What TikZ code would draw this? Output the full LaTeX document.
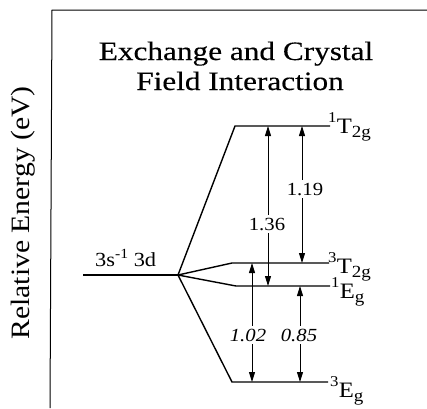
\documentclass[tikz,border=0pt]{standalone}
\usepackage{fontspec}
\setmainfont{Liberation Serif}
\newfontfamily\widefont{Liberation Serif}[FakeStretch=1.18,FakeBold=0.3]
\newfontfamily\numfont{Liberation Serif}[FakeStretch=1.12]
\usetikzlibrary{arrows.meta}
\newcommand\lvlname[3]{\raisebox{11pt}{\fontsize{15}{15}\selectfont #1}\kern0.3pt #2\raisebox{-4.5pt}{\fontsize{17}{17}\selectfont #3}}
\tikzset{
  levelline/.style={line width=1.4pt},
  frameline/.style={line width=1pt},
  dimarrow/.style={line width=0.9pt, {Triangle[length=10pt,width=6pt]}-{Triangle[length=10pt,width=6pt]}},
  numlabel/.style={fill=white, inner sep=2.5pt, font=\numfont\fontsize{18.5}{18.5}\selectfont},
  lvllabel/.style={anchor=base west, inner sep=0pt, font=\numfont\fontsize{22}{22}\selectfont},
  titletext/.style={anchor=base, inner sep=0pt, font=\widefont\fontsize{26.5}{26.5}\selectfont}
}
\begin{document}
\begin{tikzpicture}[x=1pt,y=-1pt]
\useasboundingbox (0,0) rectangle (427,408);
% frame
\coordinate (fr) at (427,10);
\coordinate (fc) at (52,10);
\coordinate (fb) at (50,408);
\draw[frameline] (fr) -- (fc) -- (fb);
% axis label
\node[rotate=90, inner sep=0pt, font=\numfont\fontsize{26.5}{26.5}\selectfont] (ylab) at (23,213) {Relative Energy (eV)};
% title
\node[titletext] (t1) at (236,60) {Exchange and Crystal};
\node[titletext] (t2) at (240,90) {Field Interaction};
% levels
\coordinate (B) at (83,275);
\coordinate (V) at (178,275);
\coordinate (a1) at (235,126); \coordinate (b1) at (330,126);
\coordinate (a2) at (232,263); \coordinate (b2) at (329,263);
\coordinate (a3) at (236,286); \coordinate (b3) at (330,286);
\coordinate (a4) at (232,382); \coordinate (b4) at (328,382);
\draw[levelline] (B) -- (V);
\draw[levelline] (V) -- (a1) -- (b1);
\draw[levelline] (V) -- (a2) -- (b2);
\draw[levelline] (V) -- (a3) -- (b3);
\draw[levelline] (V) -- (a4) -- (b4);
\node[anchor=base west, inner sep=0pt, font=\numfont\fontsize{20}{20}\selectfont] (cfg) at (95,266) {3s\raisebox{7.5pt}{\fontsize{14}{14}\selectfont -1} 3d};
% level labels
\node[lvllabel] (l1) at (328,133) {\lvlname{1}{T}{2g}};
\node[lvllabel] (l2) at (328,273) {\lvlname{3}{T}{2g}};
\node[lvllabel] (l3) at (331,298) {\lvlname{1}{E}{g}};
\node[lvllabel] (l4) at (330,397) {\lvlname{3}{E}{g}};
% dimension arrows
\coordinate (d1t) at (268,126); \coordinate (d1b) at (268,286);
\coordinate (d2t) at (302,126); \coordinate (d2b) at (302,263);
\coordinate (d3t) at (252,263); \coordinate (d3b) at (252,382);
\coordinate (d4t) at (300,286); \coordinate (d4b) at (300,382);
\draw[dimarrow] (d1t) -- (d1b);
\draw[dimarrow] (d2t) -- (d2b);
\draw[dimarrow] (d3t) -- (d3b);
\draw[dimarrow] (d4t) -- (d4b);
\node[numlabel] (n1) at (267,224) {1.36};
\node[numlabel] (n2) at (305,189) {1.19};
\node[numlabel] (n3) at (248,335) {\itshape 1.02};
\node[numlabel] (n4) at (299,335) {\itshape 0.85};
\end{tikzpicture}
\end{document}
